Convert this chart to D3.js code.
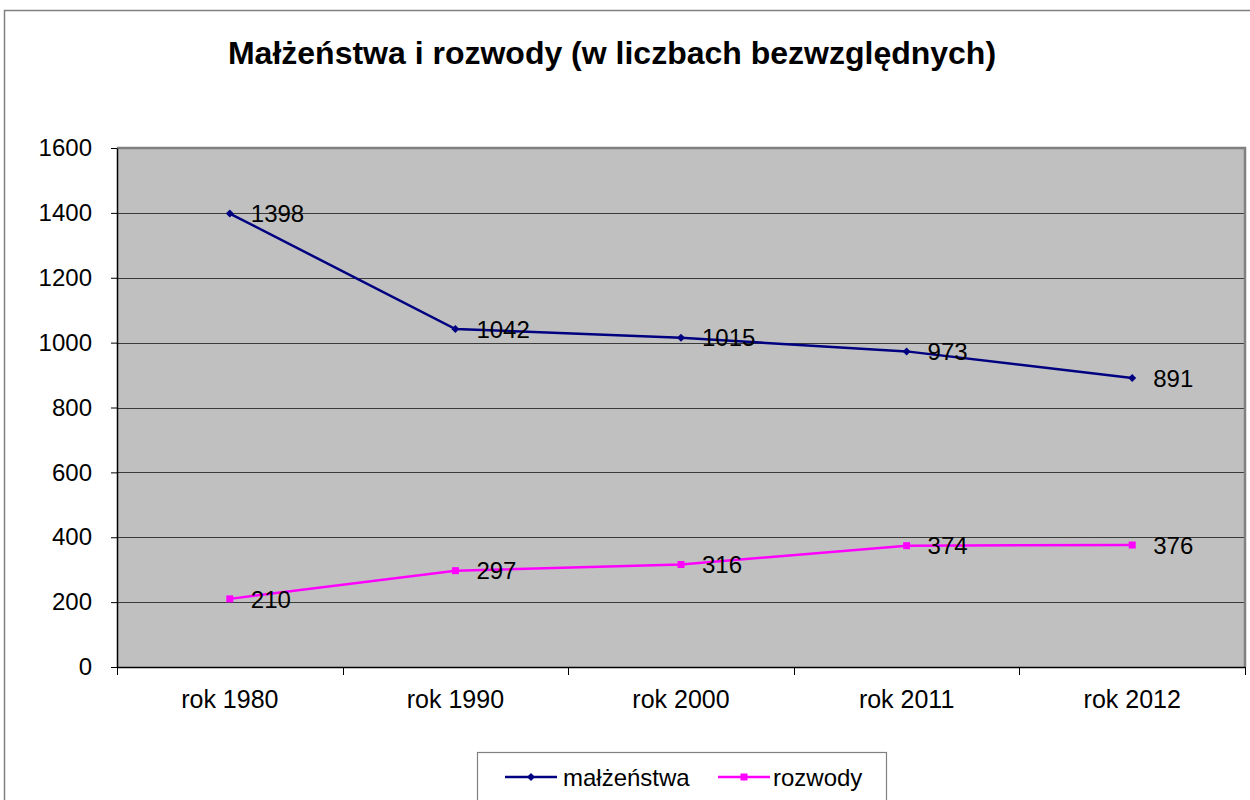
<!DOCTYPE html>
<html>
<head>
<meta charset="utf-8">
<script src="https://d3js.org/d3.v7.min.js"></script>
<style>
  body { margin: 0; background: #fff; }
  svg { display: block; font-family: "Liberation Sans", Arial, sans-serif; }
</style>
</head>
<body>
<div id="chart"></div>
<script>
// chart data
const categories = ['rok 1980', 'rok 1990', 'rok 2000', 'rok 2011', 'rok 2012'];
const malzenstwa = [1398, 1042, 1015, 973, 891];
const rozwody = [210, 297, 316, 374, 376];
const yTicks = [0, 200, 400, 600, 800, 1000, 1200, 1400, 1600];
const seriesNames = ['małżeństwa', 'rozwody'];

const width = 1250, height = 800;
const plot = { left: 117, right: 1245, top: 148, bottom: 667 };

const svg = d3.select('#chart').append('svg')
    .attr('width', width)
    .attr('height', height);

// outer chart border
svg.append('rect')
    .attr('x', 4.5).attr('y', 10.5)
    .attr('width', 1260).attr('height', 820)
    .attr('fill', '#fff')
    .attr('stroke', '#808080')
    .attr('stroke-width', 1.5);

const x = d3.scaleBand()
    .domain(categories)
    .range([plot.left, plot.right]);

const y = d3.scaleLinear()
    .domain([0, 1600])
    .range([plot.bottom, plot.top]);

// plot background
svg.append('rect')
    .attr('x', plot.left).attr('y', plot.top)
    .attr('width', plot.right - plot.left)
    .attr('height', plot.bottom - plot.top)
    .attr('fill', '#c0c0c0');

// gridlines
svg.append('g')
    .selectAll('line')
    .data(yTicks.filter(d => d > 0 && d < 1600))
    .join('line')
    .attr('x1', plot.left).attr('x2', plot.right)
    .attr('y1', d => Math.round(y(d)) + 0.5)
    .attr('y2', d => Math.round(y(d)) + 0.5)
    .attr('stroke', '#3a3a3a')
    .attr('stroke-width', 1);

// plot border top / right
svg.append('path')
    .attr('d', `M${plot.left},${plot.top} H${plot.right} V${plot.bottom}`)
    .attr('fill', 'none')
    .attr('stroke', '#808080')
    .attr('stroke-width', 2.5);

// y axis
const yAxis = svg.append('g')
    .attr('transform', `translate(${plot.left},0)`)
    .call(d3.axisLeft(y).tickValues(yTicks).tickFormat(d3.format('d'))
        .tickSize(6).tickPadding(19).tickSizeOuter(0));
yAxis.select('.domain').attr('stroke', '#000').attr('stroke-width', 1.5);
yAxis.selectAll('.tick line').attr('stroke', '#000');
yAxis.selectAll('text')
    .attr('font-size', 24)
    .attr('font-family', '"Liberation Sans", Arial, sans-serif')
    .attr('fill', '#000');

// x axis
const xAxis = svg.append('g')
    .attr('transform', `translate(0,${plot.bottom})`)
    .call(d3.axisBottom(x).tickSize(0).tickPadding(23));
xAxis.select('.domain').attr('stroke', '#000').attr('stroke-width', 1.5);
xAxis.selectAll('text')
    .attr('font-size', 25)
    .attr('font-family', '"Liberation Sans", Arial, sans-serif')
    .attr('fill', '#000');

// x ticks at band boundaries
svg.append('g')
    .selectAll('line')
    .data(categories.concat(['end']))
    .join('line')
    .attr('x1', (d, i) => Math.round(plot.left + i * x.step()) + 0.5)
    .attr('x2', (d, i) => Math.round(plot.left + i * x.step()) + 0.5)
    .attr('y1', plot.bottom)
    .attr('y2', plot.bottom + 8)
    .attr('stroke', '#000');

const cx = d => x(d) + x.bandwidth() / 2;

const series = [
    { name: seriesNames[0], values: malzenstwa, color: '#000080', width: 2.5, marker: 'diamond' },
    { name: seriesNames[1], values: rozwody, color: '#ff00ff', width: 2.5, marker: 'square' }
];

const line = d3.line()
    .x(d => cx(d.cat))
    .y(d => y(d.v));

function drawMarker(g, type, color) {
    if (type === 'diamond') {
        g.append('path')
            .attr('d', 'M0,-4 L4,0 L0,4 L-4,0 Z')
            .attr('fill', color);
    } else {
        g.append('rect')
            .attr('x', -3.5).attr('y', -3.5)
            .attr('width', 7).attr('height', 7)
            .attr('fill', color);
    }
}

series.forEach(s => {
    const pts = categories.map((c, i) => ({ cat: c, v: s.values[i] }));
    svg.append('path')
        .datum(pts)
        .attr('d', line)
        .attr('fill', 'none')
        .attr('stroke', s.color)
        .attr('stroke-width', s.width);

    svg.append('g').selectAll('g')
        .data(pts)
        .join('g')
        .attr('transform', d => `translate(${cx(d.cat)},${y(d.v)})`)
        .each(function() { drawMarker(d3.select(this), s.marker, s.color); });

    // data labels
    svg.append('g').selectAll('text')
        .data(pts)
        .join('text')
        .attr('x', d => cx(d.cat) + 21)
        .attr('y', d => y(d.v))
        .attr('dy', '0.36em')
        .attr('font-size', 24)
        .attr('fill', '#000')
        .text(d => d.v);
});

// title
svg.append('text')
    .attr('x', 612)
    .attr('y', 64)
    .attr('text-anchor', 'middle')
    .attr('font-size', 32)
    .attr('font-weight', 'bold')
    .attr('fill', '#000')
    .text('Małżeństwa i rozwody (w liczbach bezwzględnych)');

// legend
const legend = svg.append('g');
legend.append('rect')
    .attr('x', 477.5).attr('y', 752.5)
    .attr('width', 409).attr('height', 60)
    .attr('fill', '#fff')
    .attr('stroke', '#808080')
    .attr('stroke-width', 1.2);

const legendItems = [
    { s: series[0], x0: 505, tx: 563 },
    { s: series[1], x0: 718, tx: 773 }
];
legendItems.forEach(it => {
    const g = legend.append('g').attr('transform', `translate(${it.x0},777)`);
    g.append('line')
        .attr('x1', 0).attr('x2', 52)
        .attr('stroke', it.s.color)
        .attr('stroke-width', it.s.width);
    const m = g.append('g').attr('transform', 'translate(26,0)');
    drawMarker(m, it.s.marker, it.s.color);
    legend.append('text')
        .attr('x', it.tx)
        .attr('y', 777)
        .attr('dy', '0.36em')
        .attr('font-size', 24)
        .attr('fill', '#000')
        .text(it.s.name);
});
</script>
</body>
</html>
